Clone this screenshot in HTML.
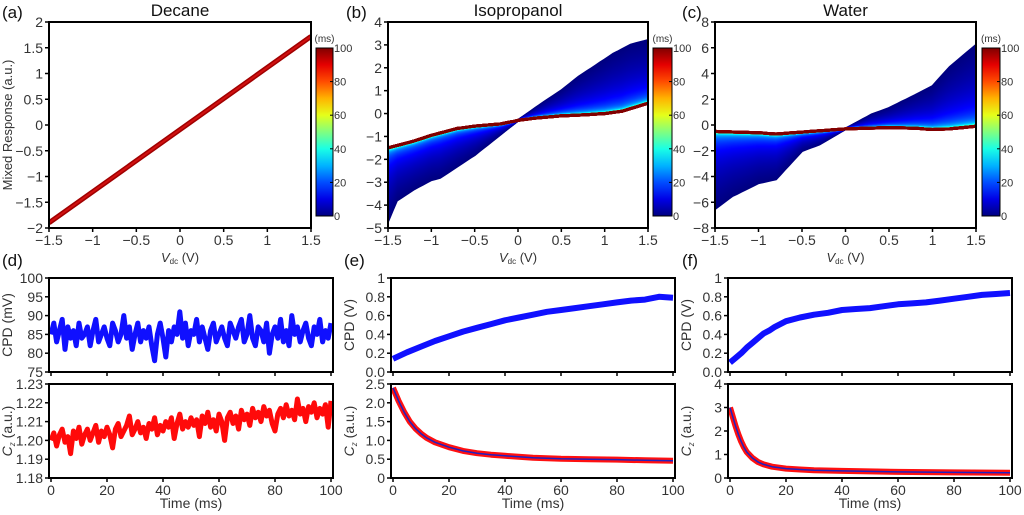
<!DOCTYPE html>
<html><head><meta charset="utf-8"><style>
body{margin:0;background:#fff}
svg{display:block;font-family:"Liberation Sans",sans-serif}
</style></head><body>
<svg id="fig" width="1024" height="515" viewBox="0 0 1024 515" xmlns="http://www.w3.org/2000/svg"></svg>
<script>
// ---------- data ----------
const decaneV = [-1.5, 1.5];
const decaneR = [-1.9, 1.72];
const isoV0 = [-1.5,-1.4,-1.2,-1,-0.9,-0.7,-0.5,-0.3,0,0.3,0.5,0.7,0.9,1.1,1.3,1.5];
const isoR0 = [-4.7,-3.8,-3.3,-2.9,-2.8,-2.3,-1.8,-1.2,-0.3,0.5,1.0,1.6,2.1,2.6,3.0,3.2];
const isoVf = [-1.5,-1.2,-1,-0.7,-0.5,-0.2,0,0.2,0.5,0.8,1,1.2,1.5];
const isoRf = [-1.5,-1.2,-0.95,-0.65,-0.55,-0.45,-0.3,-0.2,-0.1,-0.05,0,0.1,0.45];
const watV0 = [-1.5,-1.3,-1,-0.8,-0.5,-0.3,0,0.3,0.5,0.8,1,1.2,1.5];
const watR0 = [-6.5,-5.5,-4.5,-4.2,-2.0,-1.5,-0.3,0.8,1.3,2.3,3.0,4.5,6.2];
const watVf = [-1.5,-1,-0.8,-0.5,0,0.5,0.8,1,1.2,1.5];
const watRf = [-0.5,-0.6,-0.7,-0.55,-0.3,-0.2,-0.25,-0.35,-0.3,-0.1];
const timeTicks = [0,20,40,60,80,100];
const cpdD = [85,88,83,86,89,81,87,84,86,82,88,84,85,87,82,86,89,83,85,87,84,82,88,86,83,85,90,84,87,81,85,88,83,86,84,87,82,78,85,88,84,79,86,83,87,85,91,84,88,82,86,85,89,83,87,84,81,86,88,83,85,87,84,82,88,86,84,87,89,83,85,90,84,82,87,86,83,88,80,85,87,84,89,83,86,82,90,85,87,83,86,88,84,82,87,85,89,83,86,84,88];
const czD = [1.200,1.204,1.197,1.203,1.206,1.199,1.202,1.193,1.205,1.201,1.207,1.198,1.203,1.206,1.200,1.204,1.208,1.199,1.205,1.202,1.207,1.203,1.196,1.206,1.209,1.202,1.205,1.208,1.213,1.203,1.206,1.210,1.204,1.207,1.201,1.209,1.206,1.212,1.203,1.208,1.205,1.210,1.207,1.212,1.201,1.209,1.214,1.206,1.210,1.207,1.212,1.208,1.211,1.202,1.213,1.209,1.215,1.207,1.211,1.205,1.214,1.210,1.200,1.212,1.215,1.209,1.213,1.206,1.216,1.211,1.214,1.208,1.217,1.212,1.215,1.210,1.218,1.213,1.216,1.209,1.205,1.214,1.217,1.212,1.219,1.213,1.216,1.211,1.222,1.214,1.217,1.210,1.218,1.215,1.220,1.212,1.217,1.214,1.219,1.207,1.221];
const cpdEt = [0,5,10,15,20,25,30,35,40,45,50,55,60,65,70,75,80,85,90,95,100];
const cpdEv = [0.14,0.21,0.27,0.33,0.38,0.43,0.47,0.51,0.55,0.58,0.61,0.64,0.66,0.68,0.70,0.72,0.74,0.76,0.77,0.80,0.79];
const czEt = [0,2,4,6,8,10,12,15,20,25,30,35,40,50,60,70,80,90,100];
const czEv = [2.4,2.05,1.75,1.5,1.32,1.18,1.07,0.95,0.82,0.72,0.66,0.62,0.59,0.54,0.51,0.5,0.49,0.47,0.46];
const cpdFt = [0,2,4,6,8,10,12,14,16,18,20,25,30,35,40,45,50,55,60,65,70,75,80,85,90,95,100];
const cpdFv = [0.1,0.15,0.2,0.26,0.31,0.36,0.41,0.44,0.48,0.51,0.54,0.58,0.61,0.63,0.66,0.67,0.68,0.70,0.72,0.73,0.74,0.76,0.78,0.80,0.82,0.83,0.84];
const czFt = [0,1,2,3,4,5,6,8,10,12,15,20,25,30,40,60,80,100];
const czFv = [3.0,2.6,2.2,1.85,1.55,1.3,1.1,0.85,0.68,0.58,0.48,0.4,0.36,0.33,0.3,0.26,0.24,0.22];

// ---------- helpers ----------
const NS="http://www.w3.org/2000/svg";
const svg=document.getElementById('fig');
function el(tag,attrs,parent){const e=document.createElementNS(NS,tag);for(const k in attrs)e.setAttribute(k,attrs[k]);(parent||svg).appendChild(e);return e;}
function txt(s,x,y,size,anchor,parent,extra){const t=el('text',Object.assign({x:x,y:y,'font-size':size,'text-anchor':anchor||'middle',fill:'#333'},extra||{}),parent);t.textContent=s;return t;}
function lin(d0,d1,r0,r1){return v=>r0+(v-d0)/(d1-d0)*(r1-r0);}
function interp(xs,ys,x){if(x<=xs[0])return ys[0];for(let i=1;i<xs.length;i++){if(x<=xs[i]){const f=(x-xs[i-1])/(xs[i]-xs[i-1]);return ys[i-1]+f*(ys[i]-ys[i-1]);}}return ys[ys.length-1];}
function jet(v){const c=x=>Math.max(0,Math.min(1,x));const r=c(1.5-Math.abs(4*v-3)),g=c(1.5-Math.abs(4*v-2)),b=c(1.5-Math.abs(4*v-1));return `rgb(${Math.round(r*255)},${Math.round(g*255)},${Math.round(b*255)})`;}

function axes(g,x0,y0,x1,y1,sx,sy,xt,yt,showXLabels,yfmt,xfmt){
  for(const v of xt){const x=sx(v);el('line',{x1:x,y1:y1,x2:x,y2:y1+4,stroke:'#000','stroke-width':1.5},g);
    if(showXLabels){const t=txt(xfmt?xfmt(v):String(v).replace('-','\u2212'),x,y1+17,14,'middle',g);}}
  for(const v of yt){const y=sy(v);el('line',{x1:x0-4,y1:y,x2:x0,y2:y,stroke:'#000','stroke-width':1.5},g);
    const t=txt(yfmt?yfmt(v):String(v).replace(/^-/,'\u2212'),x0-6,y+5,14,'end',g);}
}
function frame(g,x0,y0,x1,y1){const r=el('rect',{x:x0,y:y0,width:x1-x0,height:y1-y0,fill:'none',stroke:'#000','stroke-width':2},g);}
function colorbar(g,x0,x1,yTop,yBot){
  const defs=el('defs',{},g);const id='jet'+x0;const lg=el('linearGradient',{id:id,x1:0,y1:1,x2:0,y2:0},defs);
  for(let i=0;i<=10;i++)el('stop',{offset:i/10,'stop-color':jet(i/10)},lg);
  const r=el('rect',{x:x0,y:yTop,width:x1-x0,height:yBot-yTop,fill:`url(#${id})`,stroke:'#000','stroke-width':1},g);
  
  const sc=lin(0,100,yBot,yTop);
  for(const v of [0,20,40,60,80,100]){const y=sc(v);el('line',{x1:x1-3,y1:y,x2:x1,y2:y,stroke:'#000'},g);txt(String(v),x1+1,y+4,11,'start',g);}
  txt('(ms)',(x0+x1)/2,yTop-6,10,'middle',g);
}

// ---------- panel builder for top row ----------
function vPanel(name,x0,x1,ymin,ymax,yt,title,label,cbx0,cbx1,drawFn,ylabel){
  const g=el('g',{});
  const y0=22,y1=228;
  const sx=lin(-1.5,1.5,x0,x1), sy=lin(ymin,ymax,y1,y0);
  const cp=el('clipPath',{id:'cp'+name},g);el('rect',{x:x0,y:y0,width:x1-x0,height:y1-y0},cp);
  const dg=el('g',{'clip-path':`url(#cp${name})`},g);
  drawFn(dg,sx,sy);
  frame(g,x0,y0,x1,y1);
  axes(g,x0,y0,x1,y1,sx,sy,[-1.5,-1,-0.5,0,0.5,1,1.5],yt,true);
  const tt=txt(title,(x0+x1)/2,16,17,'middle',g,{fill:'#111'});
  const lb=txt(label,name==='panel-a'?2:(name==='panel-b'?346:682),18,17,'start',g,{fill:'#111'});
  
  const xl=el('text',{x:(x0+x1)/2,y:262,'font-size':13,'text-anchor':'middle',fill:'#333'},g);
  
  xl.innerHTML='<tspan font-style="italic">V</tspan><tspan font-size="8" dy="2">dc</tspan><tspan dy="-2">  (V)</tspan>';
  if(ylabel){const yl=txt(ylabel,0,0,13,'middle',g);yl.setAttribute('transform',`translate(12,${(y0+y1)/2}) rotate(-90)`);}
  colorbar(g,cbx0,cbx1,48,216);
}
function familyDraw(V0,R0,Vf,Rf,tau){
  return (g,sx,sy)=>{
    const ts=[];for(let t=0;t<40;t+=0.25)ts.push(t);for(let t=40;t<=100;t+=1)ts.push(t);
    for(const t of ts){
      const w=Math.exp(-t/tau);let pts=[];
      for(let k=0;k<=60;k++){const v=-1.5+3*k/60;const r=interp(Vf,Rf,v)+w*(interp(V0,R0,v)-interp(Vf,Rf,v));pts.push(sx(v).toFixed(1)+','+sy(r).toFixed(1));}
      const p=el('polyline',{points:pts.join(' '),fill:'none',stroke:jet(t/100),'stroke-width':t>90?3:2.5},g);
      
    }
  };
}
vPanel('panel-a',49,311,-2,2,[-2,-1.5,-1,-0.5,0,0.5,1,1.5,2],'Decane','(a)',316,333,(g,sx,sy)=>{
  const l=el('line',{x1:sx(decaneV[0]),y1:sy(decaneR[0]),x2:sx(decaneV[1]),y2:sy(decaneR[1]),stroke:'#a00000','stroke-width':5},g);
  const l2=el('line',{x1:sx(decaneV[0]),y1:sy(decaneR[0]),x2:sx(decaneV[1]),y2:sy(decaneR[1]),stroke:'#d01010','stroke-width':2},g);
},'Mixed Response (a.u.)');
vPanel('panel-b',388,648,-5,4,[-5,-4,-3,-2,-1,0,1,2,3,4],'Isopropanol','(b)',653,672,familyDraw(isoV0,isoR0,isoVf,isoRf,9));
vPanel('panel-c',715,976,-8,8,[-8,-6,-4,-2,0,2,4,6,8],'Water','(c)',982,1000,familyDraw(watV0,watR0,watVf,watRf,9));

// ---------- bottom row ----------
function tPanel(name,x0,y0,y1,ymin,ymax,yt,yfmt,showX,series,ylabelHTML){
  const x1=x0+284;
  const g=el('g',{});
  const sx=lin(0,100,x0+2,x1-2), sy=lin(ymin,ymax,y1,y0);
  const cp=el('clipPath',{id:'cp'+name},g);el('rect',{x:x0,y:y0,width:x1-x0,height:y1-y0},cp);
  const dg=el('g',{'clip-path':`url(#cp${name})`},g);
  series.forEach(s=>{const pts=s.t.map((t,i)=>sx(t).toFixed(1)+','+sy(s.v[i]).toFixed(1));
    const p=el('polyline',{points:pts.join(' '),fill:'none',stroke:s.c,'stroke-width':s.w,'stroke-linejoin':'round'},dg);
    });
  frame(g,x0,y0,x1,y1);
  axes(g,x0,y0,x1,y1,sx,sy,timeTicks,yt,showX,yfmt);
  const yl=el('text',{'font-size':14,'text-anchor':'middle',fill:'#333',transform:`translate(${x0-37},${(y0+y1)/2}) rotate(-90)`},g);
  yl.innerHTML=ylabelHTML;
  if(showX){const xl=txt('Time (ms)',(x0+x1)/2,508,14,'middle',g);}
}
const idx=a=>a.map((_,i)=>i*100/(a.length-1));
const czLabel='<tspan font-style="italic">C</tspan><tspan font-size="8" dy="3" font-style="italic">z</tspan><tspan dy="-3"> (a.u.)</tspan>';
const f1=v=>v.toFixed(1), f2=v=>v.toFixed(2);
tPanel('panel-d-cpd',49,278,372,75,100,[75,80,85,90,95,100],null,false,[{t:idx(cpdD),v:cpdD,c:'#1010ff',w:5,n:'cpd-series'}],'CPD (mV)');
tPanel('panel-d-cz',49,384,478,1.18,1.23,[1.18,1.19,1.2,1.21,1.22,1.23],f2,true,[{t:idx(czD),v:czD,c:'#ff0a0a',w:5,n:'cz-series'}],czLabel);
tPanel('panel-e-cpd',391,278,372,0,1,[0,0.2,0.4,0.6,0.8,1],v=>v===1?'1':f1(v),false,[{t:cpdEt,v:cpdEv,c:'#1010ff',w:6,n:'cpd-series'}],'CPD (V)');
tPanel('panel-e-cz',391,384,478,0,2.5,[0,0.5,1,1.5,2,2.5],v=>v===0?'0':f1(v),true,[{t:czEt,v:czEv,c:'#ff1010',w:6,n:'cz-series'},{t:czEt,v:czEv,c:'#2020c0',w:1.5,n:'cz-fit'}],czLabel);
tPanel('panel-f-cpd',728,278,372,0,1,[0,0.2,0.4,0.6,0.8,1],v=>v===1?'1':f1(v),false,[{t:cpdFt,v:cpdFv,c:'#1010ff',w:6,n:'cpd-series'}],'CPD (V)');
tPanel('panel-f-cz',728,384,478,0,4,[0,1,2,3,4],null,true,[{t:czFt,v:czFv,c:'#ff1010',w:6,n:'cz-series'},{t:czFt,v:czFv,c:'#2020c0',w:1.5,n:'cz-fit'}],czLabel);
[['(d)',2],['(e)',344],['(f)',682]].forEach(([s,x])=>{const t=txt(s,x,266,17,'start',svg,{fill:'#111'});});
</script>
</body></html>
